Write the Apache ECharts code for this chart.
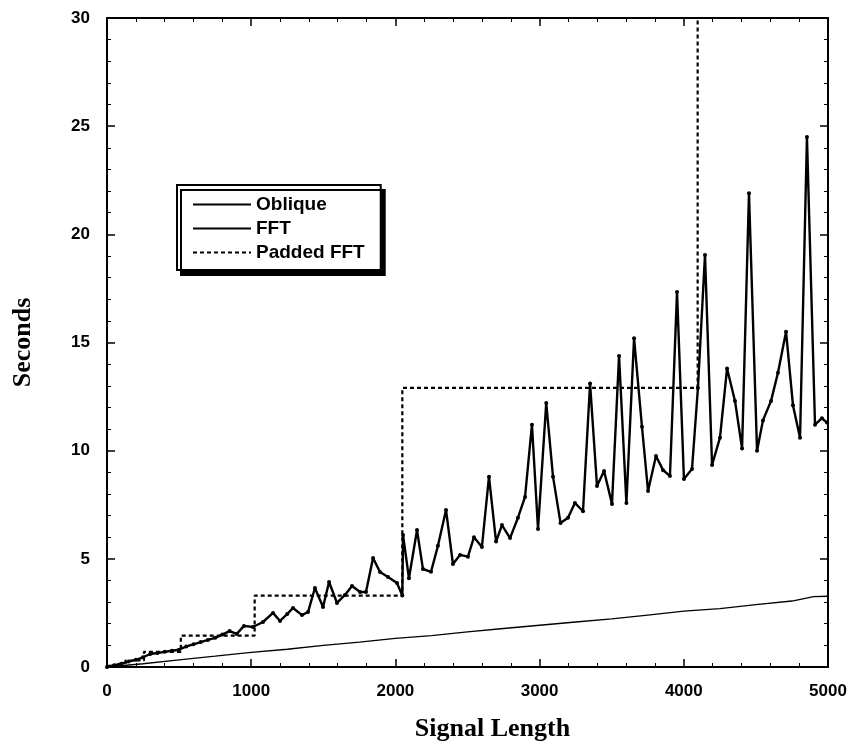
<!DOCTYPE html>
<html>
<head>
<meta charset="utf-8">
<script src="https://cdn.jsdelivr.net/npm/echarts@6/dist/echarts.min.js"></script>
<style>
  html, body { margin: 0; padding: 0; background: #fff; }
  #chart { width: 857px; height: 747px; }
</style>
</head>
<body>
<div id="chart"></div>
<script>
// signal length samples and timings
var fftX = [0, 50, 100, 150, 200, 250, 300, 350, 400, 450, 500, 550, 600, 650, 700, 750, 800, 850, 900, 950,
	1012, 1082, 1151, 1200, 1250, 1290, 1352, 1394, 1442, 1498, 1540, 1595, 1650, 1699, 1755, 1796, 1845, 1893, 1949, 2011,
	2048, 2053, 2094, 2150, 2191, 2247, 2295, 2351, 2399, 2448, 2503, 2545, 2600, 2649, 2698, 2739, 2795, 2850, 2899, 2947,
	2989, 3046, 3093, 3145, 3197, 3245, 3301, 3350, 3398, 3447, 3502, 3551, 3602, 3655, 3710, 3752, 3807, 3856, 3904, 3953,
	4001, 4057, 4098, 4147, 4196, 4251, 4300, 4355, 4404, 4452, 4508, 4549, 4605, 4653, 4709, 4757, 4806, 4854, 4910, 4958, 4993];
var fftY = [0, 0.08, 0.15, 0.25, 0.33, 0.45, 0.6, 0.65, 0.7, 0.75, 0.8, 0.95, 1.05, 1.15, 1.25, 1.35, 1.5, 1.66, 1.53, 1.9,
	1.85, 2.08, 2.5, 2.13, 2.45, 2.73, 2.4, 2.54, 3.65, 2.77, 3.93, 2.96, 3.33, 3.74, 3.47, 3.47, 5.04, 4.39, 4.16, 3.88,
	3.3, 6.1, 4.1, 6.33, 4.53, 4.4, 5.6, 7.26, 4.76, 5.18, 5.1, 6.0, 5.55, 8.8, 5.8, 6.56, 5.96, 6.9, 7.86, 11.2,
	6.38, 12.2, 8.8, 6.66, 6.9, 7.58, 7.2, 13.1, 8.37, 9.06, 7.54, 14.38, 7.58, 15.2, 11.1, 8.14, 9.75, 9.1, 8.83, 17.34,
	8.69, 9.15, 12.9, 19.05, 9.34, 10.6, 13.8, 12.3, 10.1, 21.9, 10.0, 11.4, 12.3, 13.6, 15.5, 12.1, 10.6, 24.5, 11.2, 11.5, 11.3];

var obliqueX = [0, 250, 500, 750, 1000, 1250, 1500, 1750, 2000, 2250, 2500, 2750, 3000, 3250, 3500, 3750, 4000, 4250, 4500, 4750, 4900, 5000];
var obliqueY = [0, 0.15, 0.33, 0.5, 0.68, 0.82, 1.0, 1.15, 1.32, 1.45, 1.62, 1.78, 1.93, 2.08, 2.22, 2.4, 2.58, 2.7, 2.88, 3.05, 3.25, 3.27];

// padded FFT: each value holds from its length up to the next power of two
var padX = [0, 64, 128, 256, 512, 1024, 2048, 4096];
var padY = [0.05, 0.15, 0.3, 0.7, 1.45, 3.3, 12.9, 60];

var seriesNames = ['Oblique', 'FFT', 'Padded FFT'];

function pairs(xs, ys) {
	return xs.map(function (x, i) { return [x, ys[i]]; });
}

var chart = echarts.init(document.getElementById('chart'));

var sansBold = {
	fontFamily: 'Liberation Sans',
	fontWeight: 'bold',
	fontSize: 17,
	color: '#000'
};

function axisBase(show) {
	return {
		type: 'value',
		axisLine: { show: true, onZero: false, lineStyle: { color: '#000', width: 2 } },
		axisTick: { show: true, inside: true, length: 8, lineStyle: { color: '#000', width: 1.5 } },
		minorTick: { show: true, splitNumber: 5, length: 4, lineStyle: { color: '#000', width: 1 } },
		splitLine: { show: false },
		axisLabel: show ? sansBold : { show: false }
	};
}

var xMain = Object.assign(axisBase(true), {
	min: 0, max: 5000, interval: 1000, position: 'bottom',
	name: 'Signal Length', nameLocation: 'middle', nameGap: 49,
	nameTextStyle: { fontFamily: 'Liberation Serif', fontWeight: 'bold', fontSize: 26, color: '#000', padding: [0, 0, 0, 50] }
});
xMain.axisLabel = Object.assign({ margin: 16, formatter: function (v) { return String(v); } }, sansBold);
var xTop = Object.assign(axisBase(false), { min: 0, max: 5000, interval: 1000, position: 'top' });

var yMain = Object.assign(axisBase(true), {
	min: 0, max: 30, interval: 5, position: 'left',
	name: 'Seconds', nameLocation: 'middle', nameGap: 71,
	nameTextStyle: { fontFamily: 'Liberation Serif', fontWeight: 'bold', fontSize: 26, color: '#000' }
});
yMain.axisLabel = Object.assign({ margin: 17 }, sansBold);
var yRight = Object.assign(axisBase(false), { min: 0, max: 30, interval: 5, position: 'right' });

var option = {
	backgroundColor: '#fff',
	animation: false,
	grid: { left: 107, right: 29, top: 18, bottom: 80, containLabel: false },
	xAxis: [xMain, xTop],
	yAxis: [yMain, yRight],
	legend: {
		data: seriesNames,
		orient: 'vertical',
		left: 177,
		top: 185,
		itemWidth: 58,
		itemHeight: 18,
		itemGap: 5,
		padding: [10, 16, 8, 15],
		backgroundColor: '#fff',
		borderColor: '#000',
		borderWidth: 2,
		shadowColor: '#000',
		shadowBlur: 0,
		shadowOffsetX: 4,
		shadowOffsetY: 5,
		itemStyle: { opacity: 0 },
		textStyle: { fontFamily: 'Liberation Sans', fontWeight: 'bold', fontSize: 19, color: '#000' }
	},
	series: [
		{
			name: seriesNames[0],
			type: 'line',
			data: pairs(obliqueX, obliqueY),
			showSymbol: false,
			symbol: 'none',
			lineStyle: { color: '#000', width: 1.3 }
		},
		{
			name: seriesNames[1],
			type: 'line',
			data: pairs(fftX, fftY),
			symbol: 'circle',
			symbolSize: 4,
			itemStyle: { color: '#000' },
			lineStyle: { color: '#000', width: 2.4 }
		},
		{
			name: seriesNames[2],
			type: 'line',
			step: 'end',
			data: pairs(padX, padY),
			showSymbol: false,
			symbol: 'none',
			lineStyle: { color: '#000', width: 2.2, type: [4, 3] }
		}
	]
};

chart.setOption(option);
</script>
</body>
</html>
